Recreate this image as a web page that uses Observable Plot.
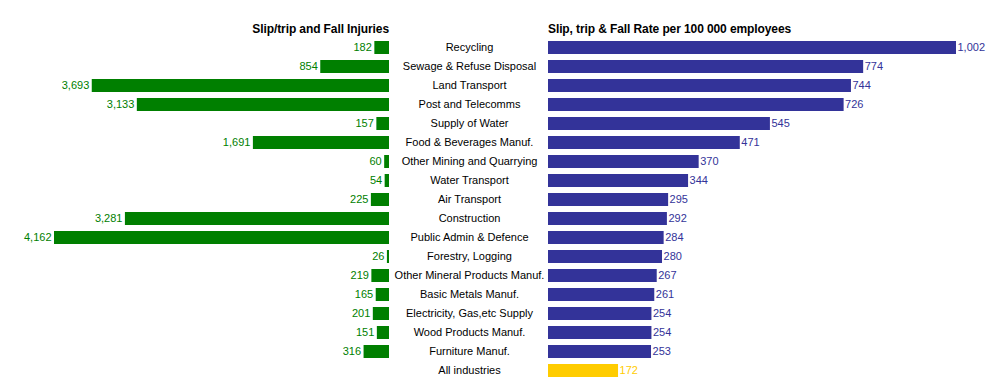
<!DOCTYPE html>
<html>
<head>
<meta charset="utf-8">
<script src="https://cdn.jsdelivr.net/npm/d3@7"></script>
<script src="https://cdn.jsdelivr.net/npm/@observablehq/plot@0.6"></script>
<style>
  body { margin: 0; background: #fff; }
  #wrap { position: relative; width: 995px; height: 380px; font-family: "Liberation Sans", Arial, sans-serif; }
  #plots { position: absolute; left: 0; top: 0; display: flex; }
  .head { position: absolute; top: 22px; font-weight: bold; font-size: 12px; color: #000; white-space: nowrap; letter-spacing: -0.1px; }
  #h1 { right: calc(995px - 389px); }
  #h2 { left: 548px; }
</style>
</head>
<body>
<div id="wrap">
  <div id="plots"></div>
  <div class="head" id="h1">Slip/trip and Fall Injuries</div>
  <div class="head" id="h2">Slip, trip &amp; Fall Rate per 100 000 employees</div>
</div>
<script>
const categories = [
  "Recycling", "Sewage & Refuse Disposal", "Land Transport", "Post and Telecomms",
  "Supply of Water", "Food & Beverages Manuf.", "Other Mining and Quarrying",
  "Water Transport", "Air Transport", "Construction", "Public Admin & Defence",
  "Forestry, Logging", "Other Mineral Products Manuf.", "Basic Metals Manuf.",
  "Electricity, Gas,etc Supply", "Wood Products Manuf.", "Furniture Manuf.", "All industries"
];
const injuries = [182, 854, 3693, 3133, 157, 1691, 60, 54, 225, 3281, 4162, 26, 219, 165, 201, 151, 316, null];
const rates = [1002, 774, 744, 726, 545, 471, 370, 344, 295, 292, 284, 280, 267, 261, 254, 254, 253, 172];

const leftData = categories.map((c, i) => ({cat: c, v: injuries[i]})).filter(d => d.v != null);
const rightData = categories.map((c, i) => ({cat: c, v: rates[i], all: c === "All industries"}));

const fmt = d3.format(",");
const yOpts = {domain: categories, range: [38, 380], paddingInner: 0.32, paddingOuter: 0.16, axis: null};
const style = {fontFamily: "Liberation Sans, Arial, sans-serif", fontSize: "11px", color: "#000", background: "transparent", overflow: "visible"};

const left = Plot.plot({
  width: 548, height: 380,
  marginLeft: 0, marginRight: 159, marginTop: 38, marginBottom: 0,
  style,
  x: {domain: [0, 4162], range: [389, 54], axis: null},
  y: yOpts,
  marks: [
    Plot.barX(leftData, {x: "v", y: "cat", fill: "#007f00"}),
    Plot.text(leftData, {x: "v", y: "cat", text: d => fmt(d.v), textAnchor: "end", dx: -3, dy: -1, fill: "#008000", fontSize: 11}),
    Plot.axisY({anchor: "right", tickSize: 0, tickPadding: 80, textAnchor: "middle", dy: -1, fontSize: 11, fill: "#000", label: null})
  ]
});

const right = Plot.plot({
  width: 447, height: 380,
  marginLeft: 0, marginRight: 39, marginTop: 38, marginBottom: 0,
  style,
  x: {domain: [0, 1002], range: [0, 408], axis: null},
  y: yOpts,
  marks: [
    Plot.barX(rightData, {x: "v", y: "cat", fill: d => d.all ? "#ffcc00" : "#333399"}),
    Plot.text(rightData, {x: "v", y: "cat", text: d => fmt(d.v), textAnchor: "start", dx: 1, dy: -1, fill: d => d.all ? "#ffcc00" : "#333399", fontSize: 11})
  ]
});

const host = document.getElementById("plots");
host.appendChild(left);
host.appendChild(right);
</script>
</body>
</html>
